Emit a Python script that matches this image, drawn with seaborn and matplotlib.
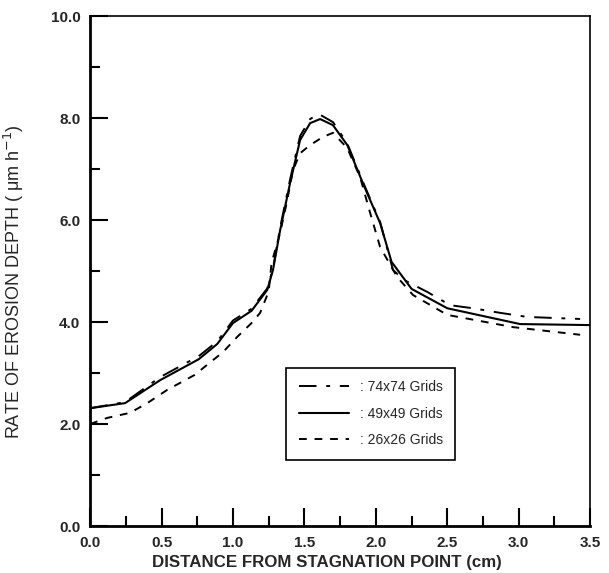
import seaborn as sns
import matplotlib.pyplot as plt
import pandas as pd

# 49x49 grids (solid)
x_49 = [0.0, 0.245, 0.49, 0.76, 0.89, 1.0, 1.13, 1.24, 1.28, 1.33, 1.40, 1.47, 1.54,
        1.61, 1.70, 1.80, 1.92, 2.03, 2.11, 2.25, 2.50, 3.01, 3.5]
y_49 = [2.31, 2.41, 2.86, 3.27, 3.57, 3.98, 4.22, 4.63, 5.02, 5.80, 6.73, 7.57, 7.90,
        7.98, 7.86, 7.47, 6.65, 5.94, 5.18, 4.65, 4.27, 3.96, 3.94]

# 74x74 grids (dash-dot)
x_74 = [0.0, 0.245, 0.49, 0.76, 0.89, 1.0, 1.13, 1.24, 1.28, 1.33, 1.40, 1.47, 1.54,
        1.60, 1.70, 1.80, 1.92, 2.03, 2.12, 2.20, 2.36, 2.52, 2.68, 2.87, 3.06, 3.24, 3.43]
y_74 = [2.31, 2.43, 2.92, 3.33, 3.62, 4.03, 4.26, 4.66, 5.05, 5.85, 6.80, 7.65, 7.98,
        8.08, 7.92, 7.50, 6.68, 5.96, 5.02, 4.82, 4.59, 4.33, 4.27, 4.18, 4.10, 4.08, 4.06]

# 26x26 grids (dashed)
x_26 = [0.0, 0.12, 0.28, 0.40, 0.54, 0.73, 0.93, 1.03, 1.13, 1.19, 1.25, 1.27, 1.33,
        1.38, 1.42, 1.47, 1.54, 1.63, 1.70, 1.80, 1.89, 1.96, 2.03, 2.15, 2.26, 2.50,
        2.96, 3.43]
y_26 = [2.00, 2.12, 2.22, 2.41, 2.67, 2.96, 3.41, 3.71, 3.98, 4.18, 4.60, 5.16, 5.75,
        6.39, 6.98, 7.31, 7.47, 7.63, 7.71, 7.41, 6.84, 6.14, 5.47, 4.88, 4.53, 4.14,
        3.90, 3.75]

x_ticks = [0.0, 0.5, 1.0, 1.5, 2.0, 2.5, 3.0, 3.5]
y_ticks = [0.0, 2.0, 4.0, 6.0, 8.0, 10.0]

sns.set_style("ticks")
plt.rcParams['font.family'] = ['Liberation Sans', 'DejaVu Sans']

fig = plt.figure(figsize=(6.09, 5.73), dpi=100)
ax = fig.add_axes([0.148, 0.082, 0.821, 0.890])

sns.lineplot(x=x_74, y=y_74, ax=ax, color="black", lw=1.4, sort=False,
             linestyle=(0, (9, 5, 2, 5)), label=": 74x74 Grids")
sns.lineplot(x=x_49, y=y_49, ax=ax, color="black", lw=1.5, sort=False,
             label=": 49x49 Grids")
sns.lineplot(x=x_26, y=y_26, ax=ax, color="black", lw=1.4, sort=False,
             linestyle=(0, (4, 4)), label=": 26x26 Grids")

ax.set_xlim(0, 3.5)
ax.set_ylim(0, 10)
ax.set_xticks(x_ticks)
ax.set_yticks(y_ticks)
ax.set_xticks([0.25 + 0.5 * i for i in range(7)], minor=True)
ax.set_yticks([1.0 + 2.0 * i for i in range(5)], minor=True)
ax.set_xticklabels([f"{v:.1f}" for v in x_ticks], fontsize=11, fontweight="bold")
ax.set_yticklabels([f"{v:.1f}" for v in y_ticks], fontsize=11, fontweight="bold")
ax.tick_params(which="major", direction="in", length=13, width=1.5, color="black")
ax.tick_params(axis="x", which="major", pad=7)
ax.tick_params(axis="y", which="major", pad=7)
ax.tick_params(which="minor", direction="in", length=7, width=1.5, color="black")

for side in ["left", "bottom"]:
    ax.spines[side].set_linewidth(2)
for side in ["top", "right"]:
    ax.spines[side].set_linewidth(1.2)
for sp in ax.spines.values():
    sp.set_color("black")

ax.set_xlabel("DISTANCE FROM STAGNATION POINT (cm)", fontsize=12.2, fontweight="bold")
ax.xaxis.set_label_coords(0.474, -0.057)
ax.set_ylabel("RATE OF EROSION DEPTH ( \u03bcm h$^{-1}$)", fontsize=13)
ax.yaxis.set_label_coords(-0.128, 0.48)

leg = ax.legend(loc="center", bbox_to_anchor=(0.561, 0.22), fontsize=10,
                handlelength=3.6, handletextpad=0.8, labelspacing=0.9,
                borderpad=0.9, fancybox=False, framealpha=1)
leg.get_frame().set_edgecolor("black")
leg.get_frame().set_linewidth(1.2)

plt.savefig("out.png", dpi=100)
